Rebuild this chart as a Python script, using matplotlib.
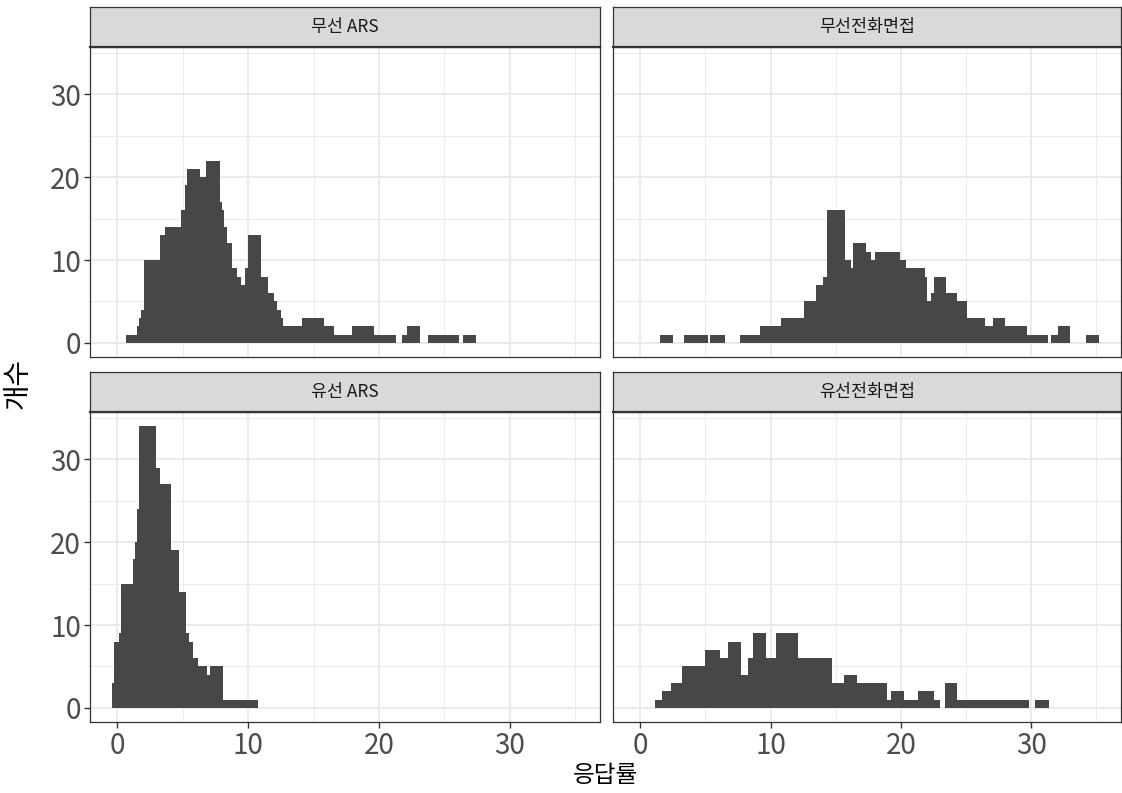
import matplotlib.pyplot as plt
import numpy as np

plt.rcParams['font.family'] = ['Noto Sans CJK KR', 'DejaVu Sans']

# histogram bins (응답률 %) and counts for each survey mode
wl_ars_edges = [0.67, 1.49, 1.62, 1.82, 2.00, 3.23, 3.67, 4.87, 5.13, 5.28, 6.28, 6.79,
                7.87, 8.03, 8.15, 8.36, 8.79, 9.13, 9.44, 9.72, 10.00, 10.95, 11.51,
                11.95, 12.21, 12.51, 12.69, 14.10, 15.79, 16.54, 17.92, 19.59, 21.31,
                21.74, 22.13, 23.13, 23.74, 26.10, 26.44, 27.44]
wl_ars_counts = [1, 2, 3, 4, 10, 13, 14, 16, 19, 21, 20, 22,
                 17, 16, 14, 12, 9, 8, 7, 9, 13, 8, 6,
                 5, 4, 3, 2, 3, 2, 1, 2, 1, 0,
                 1, 2, 0, 1, 0, 1]

wl_tel_edges = [1.53, 2.51, 3.32, 5.19, 5.37, 6.47, 7.62, 9.16, 10.82, 12.53, 13.50,
                14.02, 14.35, 15.68, 16.14, 16.32, 17.34, 17.72, 18.03, 19.90, 20.41,
                21.82, 22.02, 22.33, 22.53, 23.48, 24.32, 25.09, 26.47, 27.06, 28.01,
                29.69, 31.33, 31.53, 32.05, 33.02, 34.22, 35.24]
wl_tel_counts = [1, 0, 1, 0, 1, 0, 1, 2, 3, 5,
                 7, 8, 16, 10, 9, 12, 11, 10, 11, 10,
                 9, 8, 5, 6, 8, 6, 5, 3, 2, 3,
                 2, 1, 0, 1, 2, 0, 1]

wd_ars_edges = [-0.44, -0.28, 0.15, 0.28, 1.18, 1.36, 1.49, 1.67, 2.95, 3.23, 4.13,
                4.69, 5.23, 5.46, 5.77, 6.18, 6.87, 7.05, 8.10, 10.77]
wd_ars_counts = [3, 8, 9, 15, 18, 20, 24, 34, 29, 27,
                 19, 14, 9, 8, 6, 5, 4, 5, 1]

wd_tel_edges = [1.10, 1.66, 2.38, 3.22, 4.94, 6.09, 6.73, 7.70, 8.26, 8.64, 9.62,
                10.43, 12.10, 14.71, 15.63, 16.65, 18.95, 19.21, 20.23, 21.30, 22.58,
                23.02, 23.35, 24.32, 29.80, 30.26, 31.41]
wd_tel_counts = [1, 2, 3, 5, 7, 6, 8, 4, 6, 9,
                 6, 9, 6, 3, 4, 3, 1, 2, 1, 2,
                 1, 0, 3, 1, 0, 1]

panel_names = ['무선 ARS', '무선전화면접', '유선 ARS', '유선전화면접']
panel_edges = [wl_ars_edges, wl_tel_edges, wd_ars_edges, wd_tel_edges]
panel_counts = [wl_ars_counts, wl_tel_counts, wd_ars_counts, wd_tel_counts]

W, H = 1122, 793
fig = plt.figure(figsize=(W / 100, H / 100), dpi=100)


def rect(l, t, r, b):
    return [l / W, 1 - b / H, (r - l) / W, (b - t) / H]


cols = [(90, 600), (613, 1121)]
rows = [(7, 47, 357), (372, 412, 722)]

for i, name in enumerate(panel_names):
    r, c = divmod(i, 2)
    l, rr = cols[c]
    st, pt, pb = rows[r]

    ax = fig.add_axes(rect(l, pt, rr, pb))
    ax.stairs(panel_counts[i], panel_edges[i], fill=True, color='#474747', lw=0)
    ax.set_xlim(-2.1, 36.9)
    ax.set_ylim(-1.7, 35.7)
    ax.set_xticks([0, 10, 20, 30])
    ax.set_xticks([5, 15, 25, 35], minor=True)
    ax.set_yticks([0, 10, 20, 30])
    ax.set_yticks([5, 15, 25, 35], minor=True)
    ax.grid(which='major', color='#EBEBEB', lw=1.4)
    ax.grid(which='minor', color='#EBEBEB', lw=0.7)
    ax.set_axisbelow(True)
    for s in ax.spines.values():
        s.set_color('#333333')
        s.set_linewidth(0.9)
    ax.tick_params(which='minor', length=0)
    ax.tick_params(which='major', length=4.5, width=1, color='#333333',
                   labelsize=20, labelcolor='#4D4D4D', pad=2)
    if r == 0:
        ax.tick_params(axis='x', which='major', length=0, labelbottom=False)
    if c == 1:
        ax.tick_params(axis='y', which='major', length=0, labelleft=False)

    sax = fig.add_axes(rect(l, st, rr, pt))
    sax.set_facecolor('#D9D9D9')
    sax.set_xticks([])
    sax.set_yticks([])
    for s in sax.spines.values():
        s.set_color('#333333')
        s.set_linewidth(0.9)
    sax.spines['bottom'].set_linewidth(1.6)
    sax.text(0.5, 0.5, name, ha='center', va='center', fontsize=12.5,
             color='#1A1A1A', transform=sax.transAxes)

fig.text(605 / W, 1 - 776 / H, '응답률', ha='center', va='center', fontsize=17)
fig.text(18 / W, 1 - 383 / H, '개수', ha='center', va='center', fontsize=20,
         rotation=90)

fig.savefig('out.png', dpi=100)
